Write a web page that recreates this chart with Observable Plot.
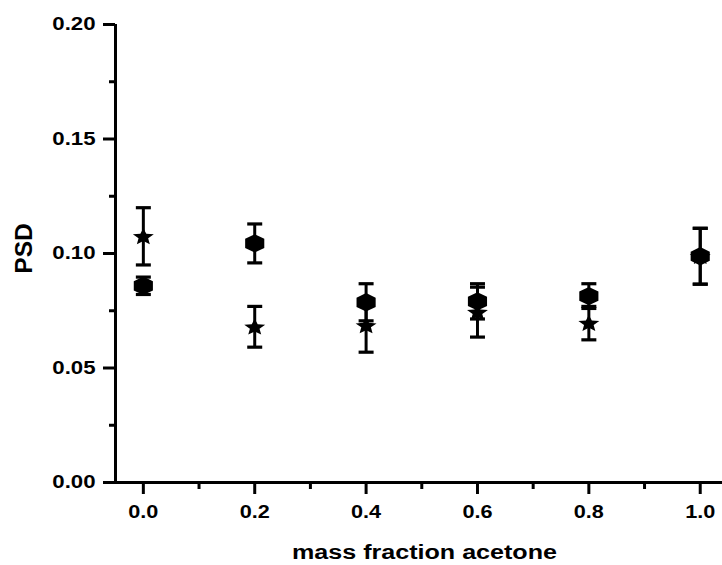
<!DOCTYPE html>
<html>
<head>
<meta charset="utf-8">
<script src="https://cdn.jsdelivr.net/npm/d3@7"></script>
<script src="https://cdn.jsdelivr.net/npm/@observablehq/plot@0.6"></script>
<style>
  html, body { margin: 0; padding: 0; background: #fff; }
</style>
</head>
<body>
<div id="chart"></div>
<script>
// ---- data ----
const massFraction = [0, 0.2, 0.4, 0.6, 0.8, 1.0];
const hexMean  = [0.0859, 0.1044, 0.0787, 0.0791, 0.0814, 0.0988];
const hexErr   = [0.0038, 0.0085, 0.0081, 0.0077, 0.0054, 0.0122];
const starMean = [0.1075, 0.0680, 0.0686, 0.0744, 0.0696, 0.0988];
const starErr  = [0.0125, 0.0089, 0.0117, 0.0109, 0.0073, 0.0122];
const yTicks = [0, 0.05, 0.10, 0.15, 0.20];
const yMinorTicks = [0.025, 0.075, 0.125, 0.175];
const xTicks = [0, 0.2, 0.4, 0.6, 0.8, 1.0];
const xMinorTicks = [0.1, 0.3, 0.5, 0.7, 0.9];
const xTitle = "mass fraction acetone";
const yTitle = "PSD";

const makeRows = (mean, err) => massFraction.map((x, i) => ({
  x, y: mean[i], lo: mean[i] - err[i], hi: mean[i] + err[i]
}));
const hexRows = makeRows(hexMean, hexErr);
const starRows = makeRows(starMean, starErr);

// ---- custom symbols ----
const hexSymbol = {
  draw(ctx, size) {
    const R = Math.sqrt(size / Math.PI), w = 1.04 * R;
    ctx.moveTo(0, -R); ctx.lineTo(w, -R / 2); ctx.lineTo(w, R / 2);
    ctx.lineTo(0, R); ctx.lineTo(-w, R / 2); ctx.lineTo(-w, -R / 2);
    ctx.closePath();
  }
};
const starSymbol = {
  draw(ctx, size) {
    const R = Math.sqrt(size / Math.PI), k = 0.46;
    for (let i = 0; i < 10; i++) {
      const a = -Math.PI / 2 + i * Math.PI / 5;
      const r = i % 2 ? k * R : R;
      const px = Math.cos(a) * r * 1.25, py = Math.sin(a) * r + 0.08 * R;
      if (i === 0) ctx.moveTo(px, py); else ctx.lineTo(px, py);
    }
    ctx.closePath();
  }
};
const capSymbol = {
  draw(ctx, size) {
    const R = Math.sqrt(size / Math.PI);
    ctx.moveTo(-R, 0); ctx.lineTo(R, 0);
  }
};

const errorMarks = (rows) => [
  Plot.ruleX(rows, {x: "x", y1: "lo", y2: "hi", stroke: "black", strokeWidth: 3}),
  Plot.dot(rows, {x: "x", y: "lo", symbol: capSymbol, r: 7.5, stroke: "black", strokeWidth: 3.2, fill: "none"}),
  Plot.dot(rows, {x: "x", y: "hi", symbol: capSymbol, r: 7.5, stroke: "black", strokeWidth: 3.2, fill: "none"})
];

const chart = Plot.plot({
  width: 722,
  height: 565,
  marginLeft: 115,
  marginRight: 0,
  marginTop: 24,
  marginBottom: 83,
  style: {fontFamily: "'Liberation Sans', Arial, sans-serif", fontWeight: "bold", color: "black", background: "white"},
  x: {domain: [-0.05, 1.04]},
  y: {domain: [0, 0.2]},
  marks: [
    Plot.axisY(yTicks, {tickSize: 12, tickPadding: 8, strokeWidth: 3, fontSize: 18.5, tickFormat: d3.format(".2f"), label: null}),
    Plot.axisY(yMinorTicks, {tickSize: 6, strokeWidth: 3, tickFormat: () => "", label: null}),
    Plot.axisX(xTicks, {tickSize: 12, tickPadding: 10, strokeWidth: 3, fontSize: 18.5, tickFormat: d3.format(".1f"), label: null}),
    Plot.axisX(xMinorTicks, {tickSize: 7, strokeWidth: 3, tickFormat: () => "", label: null}),
    Plot.ruleX([-0.05], {stroke: "black", strokeWidth: 3}),
    Plot.ruleY([0], {stroke: "black", strokeWidth: 3}),
    ...errorMarks(starRows),
    Plot.dot(starRows, {x: "x", y: "y", symbol: starSymbol, r: 8.8, fill: "black", stroke: "none"}),
    ...errorMarks(hexRows),
    Plot.dot(hexRows, {x: "x", y: "y", symbol: hexSymbol, r: 9.2, fill: "black", stroke: "none"}),
    Plot.text([xTitle], {frameAnchor: "bottom", dx: 5.5, dy: 76, fontSize: 19.5, lineAnchor: "bottom", textAnchor: "middle", className: "xtitle"}),
    Plot.text([yTitle], {frameAnchor: "left", rotate: -90, dx: -91, dy: -5, fontSize: 24.5, lineAnchor: "middle", textAnchor: "middle", className: "ytitle"})
  ]
});

document.getElementById("chart").append(chart);

// stretch text horizontally to match the reference glyph proportions
chart.querySelectorAll("text").forEach((t) => {
  const g = t.closest("g[aria-label]");
  const label = (g && g.getAttribute("aria-label")) || "";
  const content = t.textContent;
  if (!content) return;
  let L = null;
  if (label.startsWith("y-axis tick label")) L = t.getComputedTextLength() * 1.2;
  else if (label.startsWith("x-axis tick label")) L = t.getComputedTextLength() * 1.17;
  else if (content === xTitle) L = 265;
  if (L > 0) {
    t.setAttribute("textLength", L);
    t.setAttribute("lengthAdjust", "spacingAndGlyphs");
  }
});
</script>
</body>
</html>
